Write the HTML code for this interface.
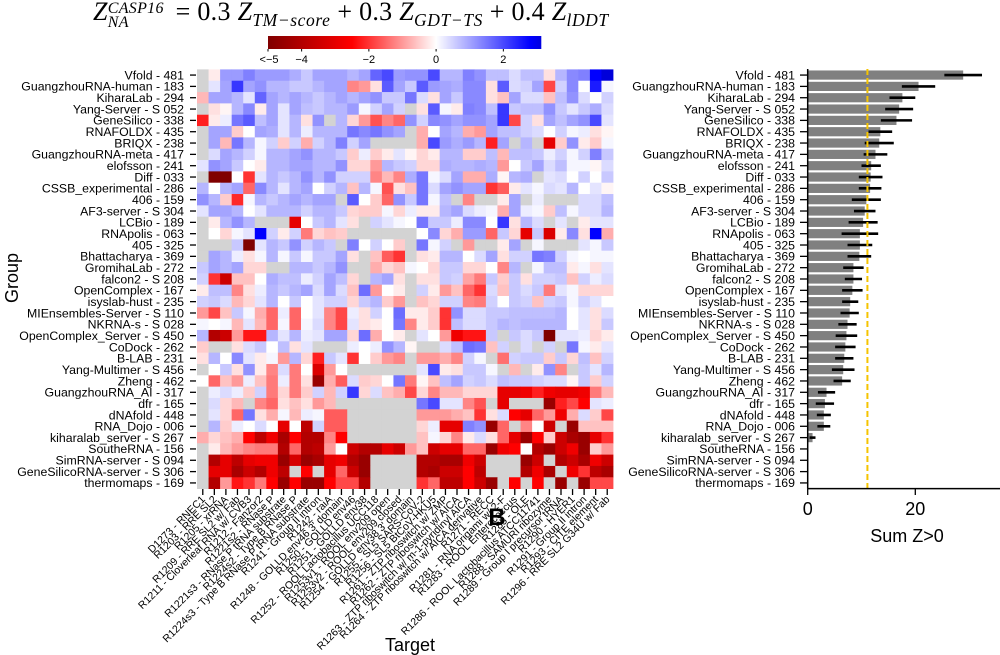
<!DOCTYPE html>
<html><head><meta charset="utf-8">
<style>
html,body{margin:0;padding:0;background:#fff;}
#wrap{position:relative;width:1000px;height:655px;overflow:hidden;font-family:"Liberation Sans",sans-serif;}
#title{position:absolute;left:93px;top:-3px;font-family:"Liberation Serif",serif;font-size:26px;white-space:nowrap;color:#000;letter-spacing:0.3px;}
#title i{font-style:italic;}
.ss{display:inline-block;vertical-align:-7px;line-height:14px;font-size:16px;font-style:italic;text-align:left;margin-right:5px;}
.sb{font-size:17.5px;font-style:italic;position:relative;top:6px;letter-spacing:0.6px;}
svg{position:absolute;left:0;top:0;}
</style></head>
<body>
<div id="wrap">
<div id="title"><i>Z</i><span class="ss"><span>CASP16</span><br><span>NA</span></span> = 0.3 <i>Z</i><span class="sb">TM−score</span> + 0.3 <i>Z</i><span class="sb">GDT−TS</span> + 0.4 <i>Z</i><span class="sb">lDDT</span></div>
<svg id="svg" width="1000" height="655" xmlns="http://www.w3.org/2000/svg"></svg>
</div>
<script>
const groups = ["Vfold - 481","GuangzhouRNA-human - 183","KiharaLab - 294","Yang-Server - S 052","GeneSilico - 338","RNAFOLDX - 435","BRIQX - 238","GuangzhouRNA-meta - 417","elofsson - 241","Diff - 033","CSSB_experimental - 286","406 - 159","AF3-server - S 304","LCBio - 189","RNApolis - 063","405 - 325","Bhattacharya - 369","GromihaLab - 272","falcon2 - S 208","OpenComplex - 167","isyslab-hust - 235","MIEnsembles-Server - S 110","NKRNA-s - S 028","OpenComplex_Server - S 450","CoDock - 262","B-LAB - 231","Yang-Multimer - S 456","Zheng - 462","GuangzhouRNA_AI - 317","dfr - 165","dNAfold - 448","RNA_Dojo - 006","kiharalab_server - S 267","SoutheRNA - 156","SimRNA-server - S 094","GeneSilicoRNA-server - S 306","thermomaps - 169"];
const targets = ["D1273 - RNEC1","R1203 - RRE SL2","R1205 - xrRNA","R1209 - RRE SL2 w/ Fab","R1211 - Cloverleaf RNA w/ CVB3","R1212 - Fanzor2","R1221s2 - RNase P","R1221s3 - RNase P tRNA substrate","R1224s2 - Type B RNase P","R1224s3 - Type B RNase P tRNA substrate","R1241 - Group II intron","R1242 - raiA","R1248 - GOLLD env46 3' domain","R1250 - GOLLD env46","R1251 - GOLLD env38","R1252 - ROOL Lactobacillus UCC118","R1253v1 - ROOL env209 open","R1253v2 - ROOL env209 closed","R1254 - GOLLD env38 3' domain","R1255 - SL5 SARS-CoV-2","R1256 - SL5 BtCoV-HKU5","R1261 - ZTP riboswitch w/ ZMP","R1262 - ZTP riboswitch w/ AICA","R1263 - ZTP riboswitch w/ m-1-pyridinyl AICA","R1264 - ZTP riboswitch w/ AICA derivative","R1271 - RECC","R1281 - RNA origami w/ 2-F","R1283 - ROOL Enterococcus","R1285 - OLE","R1286 - ROOL Lactobacillus ATCC11741","R1288 - SAMURI ribozyme","R1289 - Group I precursor tRNA","R1290 - HYER1","R1291 - Group II intron","R1293 - CITE element","R1296 - RRE SL2 G34U w/ Fab"];
const G = null;
const zLeft = [
[G,-0.2,1.1,1.1,1.4,1.1,1.1,1.1,0.9,0.6,1.0,1.0,1.0,0.8,1.0,1.7,2.0,1.1],
[G,0.3,1.0,2.2,1.0,1.2,0.8,0.8,0.6,0.6,0.8,1.0,1.0,-1.2,-1.0,-0.3,1.8,1.0],
[-0.7,1.0,1.0,0.8,0.3,1.7,1.0,0.8,1.0,0.8,0.6,0.8,1.0,0.8,1.0,1.2,0.6,0.6],
[G,-0.3,-0.1,0.8,1.3,-0.2,1.0,0.3,1.0,0.7,0.6,0.8,0.8,1.1,0.1,0.5,1.0,0.5],
[-2.2,-0.2,0.2,1.5,1.8,0.7,1.0,0.3,0.8,-0.3,1.2,G,0.8,-0.4,-1.0,-1.7,-1.2,-1.5],
[G,1.0,1.0,-0.5,0.0,1.0,0.9,0.3,0.8,0.2,0.8,0.8,0.8,1.5,1.3,1.5,1.2,1.0],
[G,1.0,-0.7,1.5,0.8,0.1,0.5,-0.5,0.5,-0.8,0.5,0.8,1.4,0.5,1.0,G,G,G],
[G,0.4,1.0,0.8,0.5,0.1,0.8,0.8,1.0,1.2,0.8,0.8,0.6,-0.5,0.2,-0.5,-0.2,0.3],
[0.3,1.2,1.0,0.6,0.0,-0.2,0.8,0.8,1.0,1.0,0.8,0.8,1.2,-0.4,-0.4,-1.0,0.8,0.6],
[G,-5,-5,0.0,-2.0,0.3,0.8,0.6,0.8,1.2,0.8,1.2,0.5,0.5,0.5,-1.2,-0.7,-1.2],
[0.8,0.0,0.8,1.0,-1.5,1.3,0.8,0.3,0.8,1.0,0.0,0.5,0.8,-0.6,0.8,0.1,-1.7,-0.3],
[1.2,0.8,-0.5,-2.1,0.1,0.8,0.6,0.8,1.0,0.8,1.0,1.0,G,1.8,0.0,-0.5,-1.5,1.2],
[0.3,1.0,1.0,0.8,0.0,0.3,0.8,0.8,0.8,0.5,0.8,0.8,0.6,-0.4,-0.5,-0.5,0.1,-0.4],
[G,-0.2,0.8,1.2,0.8,G,G,G,-3.0,0.0,0.6,0.8,0.3,-0.3,G,0.5,0.3,0.1],
[G,0.0,-0.4,0.1,0.3,2.8,0.5,-0.2,0.5,-1.3,-0.4,-0.6,-0.5,G,G,G,G,G],
[G,G,G,0.6,-5,0.3,0.8,0.6,1.2,0.5,0.8,0.6,G,1.4,0.0,0.5,0.0,-0.5],
[G,1.0,0.8,0.2,-0.3,0.1,0.8,0.1,0.6,0.1,0.6,0.6,1.0,-0.3,G,-0.6,-1.6,-2.0],
[0.6,1.0,0.8,1.0,-0.4,-0.4,G,G,0.8,0.8,0.6,0.8,1.2,G,G,-0.8,-0.4,-0.6],
[0.5,-2.0,-3.5,-0.6,-0.6,0.0,0.9,0.7,0.7,0.2,0.5,1.0,0.7,-0.4,G,0.8,1.0,-0.3],
[-0.2,0.7,0.7,-1.2,-0.3,0.2,0.8,0.6,0.8,1.0,0.4,1.0,0.4,-0.6,1.6,-1.0,0.0,-0.2],
[0.5,0.6,0.4,-0.7,-0.4,0.3,0.8,0.0,0.6,0.0,0.3,0.5,0.5,-0.4,0.6,0.8,-0.5,-1.0],
[-1.0,-1.8,-0.6,0.6,0.1,-0.8,-1.5,0.2,-1.5,0.0,0.3,-1.2,-1.8,0.2,-0.3,0.5,0.0,1.6],
[0.1,0.0,0.1,-0.7,0.3,-0.7,-1.5,0.1,-1.5,0.1,0.4,-1.2,-1.8,0.3,-0.3,-0.2,0.0,1.5],
[0.8,-4.0,-3.5,-1.0,-2.3,-2.3,0.8,0.3,0.8,0.2,0.3,1.0,1.0,-0.4,1.6,-0.8,0.0,-0.2],
[-0.5,G,G,-0.3,0.4,0.6,0.0,0.7,-0.3,0.3,G,G,G,0.2,0.0,0.2,1.2,0.8],
[-0.3,0.8,0.0,1.3,0.3,-0.2,0.1,-1.0,0.8,-0.4,-2.2,0.6,0.3,-2.0,0.0,-0.5,-1.0,-1.2],
[G,0.0,0.6,-0.3,1.2,-0.2,-1.2,0.4,-1.3,0.0,-3.2,-1.0,0.0,G,G,G,G,G],
[0.0,-1.5,-0.6,-1.0,0.2,-0.6,-1.3,0.2,-1.3,-0.3,-4.5,-0.8,-1.6,0.4,-0.5,-0.4,0.0,1.5],
[G,0.2,0.4,0.2,-0.5,0.5,-1.3,-0.4,-1.3,-0.5,0.5,-0.7,0.5,2.2,-0.4,0.4,-0.6,-0.8],
[G,0.4,-0.4,-0.7,G,-1.2,-1.5,-0.3,-0.6,-0.3,-1.0,-0.7,G,G,G,G,G,G],
[G,0.3,-0.4,-1.5,1.5,-0.3,-0.8,0.1,-0.7,0.2,0.1,-1.6,-1.6,G,G,G,G,G],
[G,0.8,-0.5,0.2,0.0,0.4,0.0,-3.0,0.0,-3.8,0.5,-1.6,-1.6,G,G,G,G,G],
[-0.8,-0.4,-0.6,-0.8,-2.5,-3.8,-2.8,-4.2,-2.5,-4.0,-4.0,-1.2,-2.5,G,G,G,G,G],
[G,-0.2,-0.7,-1.0,-1.2,-1.3,-1.3,-4.0,-1.5,-4.0,-3.8,-1.0,0.0,-3.5,-4.0,-4.0,-3.0,-3.5],
[G,-4.0,-3.0,-3.8,-3.0,-2.8,-2.8,-4.5,-3.3,-4.5,-4.2,-3.0,-2.8,-4.0,-4.5,G,G,G],
[G,-3.0,-3.0,-4.2,-3.5,-4.0,-2.8,-3.8,G,-2.5,G,-3.0,-1.5,-3.5,-4.5,G,G,G],
[G,-4.0,-1.0,-2.3,-2.0,-1.3,-2.5,-4.5,-2.5,-4.5,-4.5,-2.5,-1.8,-1.8,-4.0,G,G,G]
];
const zRight = [
[1.2,1.2,2.0,0.8,0.8,1.4,1.2,0.7,0.7,0.4,0.7,0.7,-0.3,0.8,1.3,1.4,2.8,3.2],
[0.6,1.8,1.1,1.0,0.9,1.3,1.3,-0.3,1.8,0.4,0.5,1.0,-1.8,0.5,1.3,0.0,2.5,0.1],
[1.5,0.4,-0.3,1.0,0.6,1.3,1.3,-0.3,-0.6,1.0,0.4,0.4,-0.6,0.7,1.2,0.4,0.0,0.5],
[G,-0.3,1.8,0.1,-0.2,1.4,1.3,0.7,2.2,0.6,0.7,0.7,1.2,0.6,0.3,0.6,0.9,0.4],
[1.2,0.5,1.3,1.2,1.0,1.2,1.2,1.0,2.2,-1.8,0.5,-0.3,1.0,0.7,1.0,1.2,2.0,0.3],
[G,-0.8,0.0,1.0,0.8,-0.8,-1.0,1.0,0.7,0.7,0.5,0.4,0.0,0.5,0.1,0.2,-0.3,-0.1],
[G,-0.8,2.0,1.1,0.9,1.1,0.8,-2.2,1.0,G,0.8,G,-3.0,-0.5,1.2,-0.2,-0.5,0.1],
[-0.1,-0.4,-0.2,0.8,0.8,-0.5,-0.5,0.7,-0.7,0.7,0.7,0.6,0.2,0.5,0.1,0.5,1.4,0.6],
[0.5,-0.4,-0.4,0.9,0.8,0.8,0.9,0.8,-1.0,0.0,0.6,1.0,0.4,0.7,0.1,0.1,-0.1,0.4],
[0.9,1.5,0.1,0.4,1.0,-0.8,-0.8,0.9,-0.1,0.8,0.9,G,0.3,0.4,0.0,0.5,0.0,0.6],
[-0.6,1.5,0.4,1.0,1.2,1.0,1.0,-2.0,-1.6,-0.2,0.3,0.1,0.4,0.3,0.8,0.0,0.3,-0.1],
[0.6,1.5,0.1,0.7,G,-1.2,G,G,-0.2,1.0,G,0.2,G,G,G,0.4,0.4,0.7],
[0.2,-0.2,-0.2,0.8,1.0,0.4,0.2,0.1,-0.8,1.0,0.2,0.1,-0.5,0.7,0.1,0.4,0.4,0.8],
[0.0,1.5,0.6,0.6,0.2,1.3,1.3,0.0,2.2,-0.3,0.8,0.4,G,0.3,G,-0.2,0.3,0.3],
[G,0.0,1.3,-0.4,-0.8,1.1,1.1,-1.5,0.6,-0.4,-3.0,0.6,-3.2,-0.2,1.3,-0.3,2.8,-0.8],
[G,1.5,0.1,0.5,G,-1.0,G,G,-0.2,1.0,G,0.1,G,G,G,0.3,0.1,0.6],
[G,-0.3,-0.2,0.8,0.8,0.0,0.4,1.0,-0.3,0.5,0.5,1.5,1.4,0.5,0.1,0.0,0.1,0.1],
[0.1,0.0,-0.4,0.6,0.6,-0.4,-0.4,0.0,-1.2,0.8,G,0.1,0.7,0.7,-0.2,0.1,-0.3,0.3],
[G,-0.3,-0.3,0.6,0.5,-0.9,-1.3,0.6,-0.5,0.6,-0.3,0.5,0.5,0.6,-0.6,0.5,0.2,0.4],
[G,0.5,-0.2,-1.0,-0.6,-1.5,-2.0,0.4,-0.6,0.6,0.4,0.6,-1.3,0.3,0.1,-0.4,-0.4,-0.4],
[G,-0.6,-0.4,0.5,0.5,-1.2,-1.3,0.5,0.0,0.6,0.5,-0.6,0.5,0.6,0.1,0.5,0.3,0.0],
[-0.2,-0.2,-0.5,-2.0,1.2,0.4,0.4,0.6,0.6,0.7,0.7,0.7,0.7,0.8,0.0,0.3,-0.3,0.4],
[-1.2,-0.2,-0.5,-2.0,0.7,0.4,0.4,0.6,0.8,0.7,0.8,0.8,0.8,0.8,0.0,0.3,-0.3,0.6],
[G,0.3,0.0,-1.0,-2.8,-2.3,-2.3,0.6,G,0.6,0.4,0.6,-5,0.3,0.3,0.2,-0.4,-0.2],
[-0.1,G,G,0.4,0.7,1.6,1.5,-0.6,0.5,G,0.4,G,0.5,G,1.5,0.1,-0.2,0.3],
[G,-1.0,-1.0,-0.8,-1.2,0.5,0.1,G,-1.4,0.5,0.6,0.6,-0.5,0.6,-0.4,0.7,-0.6,0.5],
[G,0.3,2.0,-0.2,-0.3,0.6,0.6,0.1,G,-0.7,G,-0.2,1.2,-1.2,G,0.6,0.3,0.8],
[-1.3,-0.1,-0.6,0.7,1.0,0.5,0.6,0.4,0.7,0.6,0.6,0.5,0.4,0.4,-0.1,0.6,-0.5,0.5],
[-1.8,-0.4,-1.2,-0.7,-0.7,-0.4,-0.4,-0.4,-3.0,-3.0,-2.8,-2.2,-2.8,-3.0,-3.0,-2.8,-1.3,-0.7],
[G,1.5,2.0,0.3,0.3,-1.2,-1.7,G,-3.0,G,G,G,-4.5,-2.2,-1.8,-2.5,0.3,0.2],
[G,-1.0,-1.0,-1.0,-0.8,-0.6,-2.0,-0.3,0.4,-2.5,-3.0,-1.5,-1.0,-2.8,-0.8,0.4,-0.5,-1.8],
[G,-0.4,0.2,-3.0,-3.0,1.4,1.2,-4.5,-1.5,G,-1.2,0.0,-3.5,G,-4.5,-0.6,-0.6,-0.6],
[G,-0.6,0.1,-0.4,-1.2,-0.2,0.4,-0.3,-1.5,-3.0,-4.5,-2.5,-0.5,-3.5,-4.2,-4.5,-3.0,-2.0],
[-1.0,-0.6,-3.5,-3.0,-3.0,-1.5,-1.5,-4.5,-2.8,-2.5,0.0,-4.0,-4.5,-3.5,-2.8,-4.5,-0.5,-1.0],
[G,-4.0,-4.0,-4.2,-4.2,-2.8,-3.5,G,G,G,-4.5,-3.5,G,-4.0,-3.5,-4.2,-2.8,-3.5],
[G,-4.0,-4.2,-3.5,-3.5,-2.5,-3.8,G,G,G,-4.0,-2.8,-4.2,G,-2.8,-2.0,-3.8,-4.2],
[G,-2.0,-1.5,-3.8,-3.8,-2.5,-3.5,-4.5,G,-2.5,G,-2.5,G,-4.5,G,-4.5,-1.8,-1.8]
];
const sumZ = [28.9,20.6,17.6,17.0,16.5,13.5,13.3,12.6,11.8,11.7,11.6,10.9,10.6,10.3,9.7,9.7,9.6,8.5,8.5,8.3,7.9,7.8,7.4,7.2,7.0,6.8,6.6,6.4,3.5,3.2,3.0,3.0,0.9,0,0,0,0];
const sumErr = [3.5,3.1,2.4,2.6,2.9,2.2,2.7,2.2,1.8,2.2,2.1,2.7,2.0,2.7,3.4,2.3,2.2,1.9,1.6,1.9,1.5,1.7,1.7,2.0,1.9,1.7,2.1,1.6,1.6,1.7,1.3,1.2,0.55,0,0,0,0];
const threshold = [11.1];
const cbTicks = [-4,-2,0,2];
const barTicks = [0,20];

const NS = "http://www.w3.org/2000/svg";
const svg = document.getElementById('svg');
function mk(tag, attrs, parent){ const e=document.createElementNS(NS,tag); for(const k in attrs) e.setAttribute(k,attrs[k]); (parent||svg).appendChild(e); return e; }

function cmap(v){
  if(v===null||v===undefined) return '#d3d3d3';
  let r,g,b;
  if(v<=0){
    if(v<-2.5){ const t=Math.min(1,(-2.5-v)/2.5); r=255-127*t; g=0; b=0; }
    else { const t=-v/2.5; r=255; g=255*(1-t); b=g; }
  } else {
    if(v<=2.8){ const t=v/2.8; r=255*(1-t); g=r; b=255; }
    else { const t=Math.min(1,(v-2.8)/0.6); r=0; g=0; b=255-55*t; }
  }
  return `rgb(${Math.round(r)},${Math.round(g)},${Math.round(b)})`;
}

const hx0=197, hx1=613, hy0=69.4, hy1=488.6;
const nC=targets.length, nR=groups.length;
const cw=(hx1-hx0)/nC, rh=(hy1-hy0)/nR;
const xCol = c => hx0 + c*cw;
const yRow = r => hy0 + r*rh;

const hm = mk('g',{});


for(let r=0;r<nR;r++){
  const row = zLeft[r].concat(zRight[r]);
  for(let c=0;c<nC;c++){
    const rc = mk('rect',{x:xCol(c).toFixed(2),y:yRow(r).toFixed(2),width:(cw+0.4).toFixed(2),height:(rh+0.4).toFixed(2),fill:cmap(row[c])},hm);
    
    
  }
}
for(let r=0;r<nR;r++){
  const y=yRow(r)+rh/2;
  mk('line',{x1:190,x2:196,y1:y,y2:y,stroke:'#000','stroke-width':1.3});
  const t=mk('text',{x:184,y:y+4.3,'text-anchor':'end','font-size':12.3,fill:'#000'});
  t.textContent=groups[r];
  
  
}
for(let c=0;c<nC;c++){
  const x=xCol(c)+cw/2;
  mk('line',{x1:x,x2:x,y1:489,y2:495,stroke:'#000','stroke-width':1.3});
  const t=mk('text',{x:x+3,y:500,'text-anchor':'end','font-size':10.5,fill:'#000',transform:`rotate(-45 ${x+3} 500)`});
  t.textContent=targets[c];
  
  
}
let t;
t=mk('text',{x:410,y:651,'text-anchor':'middle','font-size':18});
t.textContent='Target';


t=mk('text',{x:18,y:278,'text-anchor':'middle','font-size':18,transform:'rotate(-90 18 278)'});
t.textContent='Group';


t=mk('text',{x:497,y:525,'text-anchor':'middle','font-size':24,'font-weight':'bold'});
t.textContent='B';



const cbx0=268, cbx1=541, cbMin=-5, cbMax=3.12;
const cbX = v => cbx0 + (v-cbMin)/(cbMax-cbMin)*(cbx1-cbx0);
const cb=mk('g',{});


for(let i=0;i<273;i++){
  const v=cbMin+(i+0.5)/273*(cbMax-cbMin);
  mk('rect',{x:cbx0+i,y:36,width:1.3,height:13,fill:cmap(v)},cb);
}
const cbLabels=['<−5'].concat(cbTicks.map(v=>v<0?'−'+(-v):String(v)));
const cbVals=[-5].concat(cbTicks);
cbVals.forEach((v,i)=>{
  const x=cbX(v);
  mk('line',{x1:x,x2:x,y1:49,y2:51.5,stroke:'#000','stroke-width':1},cb);
  const tt=mk('text',{x:x-(i===0?-1:0),y:63,'text-anchor':'middle','font-size':11},cb);
  tt.textContent=cbLabels[i];
  
  
});

const bx0=807.7, bScale=(915.3-807.7)/20;
const bX = v => bx0 + v*bScale;
const bars=mk('g',{});


for(let r=0;r<nR;r++){
  const y=yRow(r)+rh/2;
  if(sumZ[r]>0){
    const b=mk('rect',{x:bx0,y:y-4.6,width:(bX(sumZ[r])-bx0).toFixed(2),height:9.2,fill:'#808080'},bars);
    
    
    const e=mk('line',{x1:bX(sumZ[r]-sumErr[r]),x2:bX(sumZ[r]+sumErr[r]),y1:y,y2:y,stroke:'#000','stroke-width':2.6},bars);
    
    
  }
  mk('line',{x1:800,x2:807,y1:y,y2:y,stroke:'#000','stroke-width':1.3},bars);
  const tl=mk('text',{x:795,y:y+4.3,'text-anchor':'end','font-size':12.3},bars);
  tl.textContent=groups[r];
  
  
}
const th=mk('line',{x1:bX(threshold[0]),x2:bX(threshold[0]),y1:69,y2:488,stroke:'#f5c400','stroke-width':2,'stroke-dasharray':'6,3'},bars);


mk('line',{x1:bx0,x2:bx0,y1:69,y2:488.6,stroke:'#000','stroke-width':1.5},bars);
mk('line',{x1:bx0,x2:1000,y1:488.6,y2:488.6,stroke:'#000','stroke-width':1.5},bars);
barTicks.forEach(v=>{
  const x=bX(v);
  mk('line',{x1:x,x2:x,y1:488.6,y2:495,stroke:'#000','stroke-width':1.3},bars);
  const tl=mk('text',{x:x,y:515,'text-anchor':'middle','font-size':18},bars);
  tl.textContent=String(v);
  
  
});
t=mk('text',{x:907,y:542,'text-anchor':'middle','font-size':18});
t.textContent='Sum Z>0';


</script>
</body></html>
